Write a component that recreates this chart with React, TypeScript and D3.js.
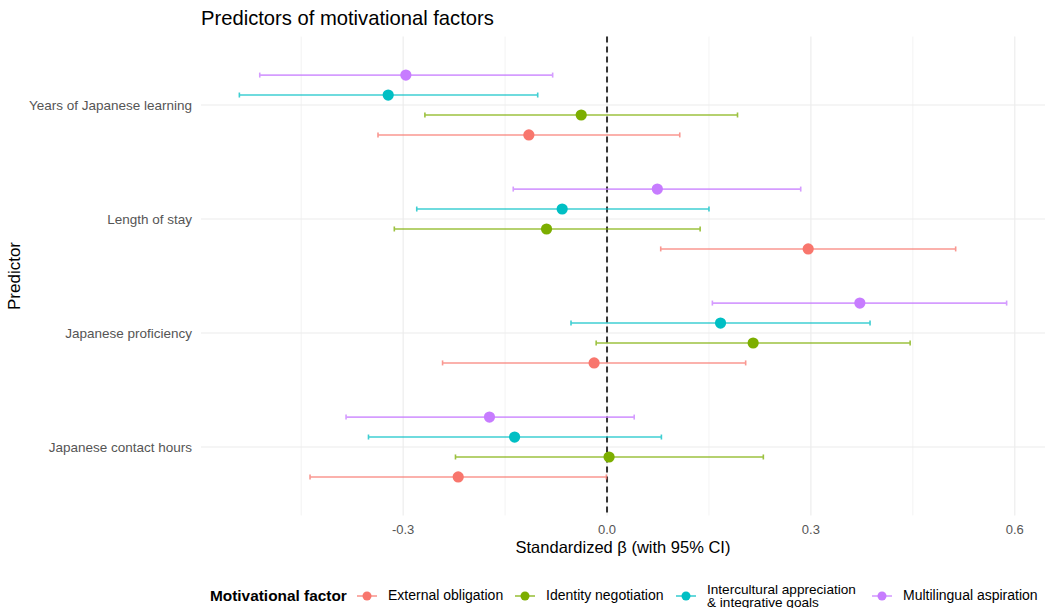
import React from 'react';
import * as d3 from 'd3';

const predictors = [
  'Years of Japanese learning',
  'Length of stay',
  'Japanese proficiency',
  'Japanese contact hours',
];

const factors = [
  'External obligation',
  'Identity negotiation',
  'Intercultural appreciation & integrative goals',
  'Multilingual aspiration',
];
const factorColors = ['#F8766D', '#7CAE00', '#00BFC4', '#C77CFF'];

// standardized beta + 95% CI, one entry per predictor (same order as predictors)
const estExternal = [-0.115, 0.296, -0.019, -0.219];
const lowExternal = [-0.337, 0.079, -0.242, -0.437];
const highExternal = [0.107, 0.513, 0.204, -0.001];

const estIdentity = [-0.038, -0.089, 0.215, 0.003];
const lowIdentity = [-0.268, -0.313, -0.016, -0.223];
const highIdentity = [0.192, 0.137, 0.446, 0.23];

const estIntercultural = [-0.322, -0.066, 0.167, -0.136];
const lowIntercultural = [-0.541, -0.28, -0.053, -0.351];
const highIntercultural = [-0.102, 0.15, 0.387, 0.08];

const estMultilingual = [-0.296, 0.074, 0.372, -0.173];
const lowMultilingual = [-0.511, -0.138, 0.155, -0.384];
const highMultilingual = [-0.08, 0.285, 0.588, 0.04];

const xTicks = [-0.3, 0, 0.3, 0.6];

const seriesEst = [estExternal, estIdentity, estIntercultural, estMultilingual];
const seriesLow = [lowExternal, lowIdentity, lowIntercultural, lowMultilingual];
const seriesHigh = [highExternal, highIdentity, highIntercultural, highMultilingual];

const W = 1046;
const H = 608;
const margin = { top: 36.6, right: 1, bottom: 92.6, left: 201 };
const FONT = '"Liberation Sans", Arial, Helvetica, sans-serif';
const dodgeWidth = 0.7;

const rows = factors.flatMap((f, fi) =>
  predictors.map((p, pi) => ({
    factor: f,
    fi,
    predictor: p,
    est: seriesEst[fi][pi],
    low: seriesLow[fi][pi],
    high: seriesHigh[fi][pi],
  }))
);

const App: React.FC = () => {
  const left = margin.left;
  const right = W - margin.right;
  const top = margin.top;
  const bottom = H - margin.bottom;

  // ggplot-style 5% expansion of the data range
  const lo = d3.min(rows, d => d.low)!;
  const hi = d3.max(rows, d => d.high)!;
  const pad = (hi - lo) * 0.05;
  const x = d3.scaleLinear().domain([lo - pad, hi + pad]).range([left, right]);

  const y = d3.scalePoint<string>().domain(predictors).range([top, bottom]).padding(0.6);
  const step = y.step();
  const n = factors.length;
  const dodge = (fi: number) => ((n - 1) / 2 - fi) * (dodgeWidth / n) * step;

  const tickStep = xTicks[1] - xTicks[0];
  const minorTicks = d3
    .range(xTicks[0] - tickStep / 2, xTicks[xTicks.length - 1] + tickStep, tickStep)
    .filter(v => v >= x.domain()[0] && v <= x.domain()[1]);
  const fmt = (v: number) => d3.format('.1f')(v).replace('\u2212', '-');

  const capH = 5;
  const legendY = 596;
  const legendKeys = [367, 525, 686, 882];

  return (
    <svg width={W} height={H} style={{ position: 'absolute', left: 0, top: 0, background: '#fff' }} fontFamily={FONT}>
      <rect width={W} height={H} fill="#fff" />

      {/* title */}
      <text x={left} y={25} fontSize={20.2} fill="#000">Predictors of motivational factors</text>

      {/* grid */}
      {minorTicks.map(v => (
        <line key={'mn' + v} x1={x(v)} x2={x(v)} y1={top} y2={bottom} stroke="#ebebeb" strokeWidth={0.6} />
      ))}
      {xTicks.map(v => (
        <line key={'mj' + v} x1={x(v)} x2={x(v)} y1={top} y2={bottom} stroke="#ebebeb" strokeWidth={1.1} />
      ))}
      {predictors.map(p => (
        <line key={'hg' + p} x1={left} x2={right} y1={y(p)} y2={y(p)} stroke="#ebebeb" strokeWidth={1.1} />
      ))}

      {/* zero reference */}
      <line x1={x(0)} x2={x(0)} y1={top} y2={bottom} stroke="#333" strokeWidth={2} strokeDasharray="6,4" />

      {/* error bars + points */}
      {rows.map((r, i) => {
        const cy = (y(r.predictor) as number) + dodge(r.fi);
        const col = factorColors[r.fi];
        return (
          <g key={'r' + i}>
            <g stroke={col} strokeWidth={1.6} opacity={0.75}>
              <line x1={x(r.low)} x2={x(r.high)} y1={cy} y2={cy} />
              <line x1={x(r.low)} x2={x(r.low)} y1={cy - capH / 2} y2={cy + capH / 2} />
              <line x1={x(r.high)} x2={x(r.high)} y1={cy - capH / 2} y2={cy + capH / 2} />
            </g>
            <circle cx={x(r.est)} cy={cy} r={5.6} fill={col} />
          </g>
        );
      })}

      {/* y axis labels */}
      {predictors.map(p => (
        <text key={'yl' + p} x={left - 9} y={y(p)} dy="0.35em" textAnchor="end" fontSize={13.5} fill="#555">
          {p}
        </text>
      ))}
      <text transform={`translate(20,${(top + bottom) / 2}) rotate(-90)`} textAnchor="middle" fontSize={17} fill="#000">
        Predictor
      </text>

      {/* x axis labels */}
      {xTicks.map(v => (
        <text key={'xl' + v} x={x(v)} y={529} dy="0.35em" textAnchor="middle" fontSize={13} fill="#555">
          {fmt(v)}
        </text>
      ))}
      <text x={(left + right) / 2} y={547} dy="0.35em" textAnchor="middle" fontSize={16.5} fill="#000">
        Standardized β (with 95% CI)
      </text>

      {/* legend */}
      <text x={210} y={legendY} dy="0.35em" fontSize={15.4} fontWeight="bold" fill="#000">Motivational factor</text>
      {factors.map((f, fi) => {
        const kx = legendKeys[fi];
        const lines = f.includes('&') ? [f.slice(0, f.indexOf('&')).trim(), f.slice(f.indexOf('&'))] : [f];
        return (
          <g key={'lg' + f}>
            <line x1={kx - 10} x2={kx + 10} y1={legendY} y2={legendY} stroke={factorColors[fi]} strokeWidth={1.6} opacity={0.75} />
            <circle cx={kx} cy={legendY} r={4.5} fill={factorColors[fi]} />
            {lines.map((t, li) => (
              <text
                key={t}
                x={kx + 21}
                y={legendY - 0.5 + (li - (lines.length - 1) / 2) * 13}
                dy="0.35em"
                fontSize={lines.length > 1 ? 13.6 : 14}
                fill="#000"
              >
                {t}
              </text>
            ))}
          </g>
        );
      })}
    </svg>
  );
};

export default App;
